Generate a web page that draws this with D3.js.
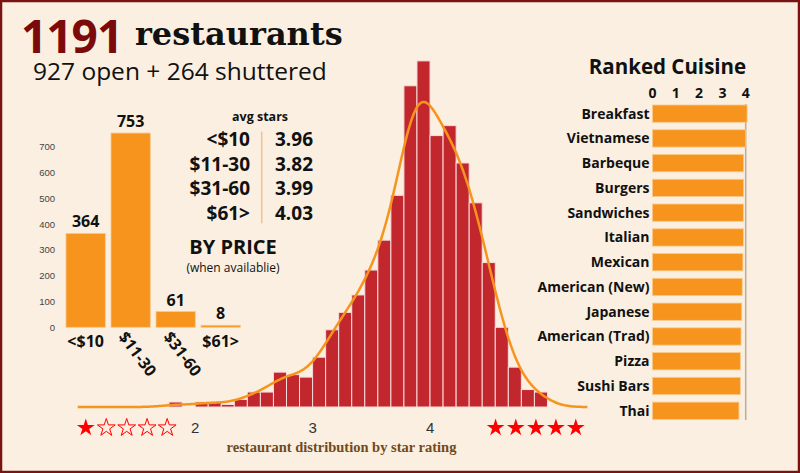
<!DOCTYPE html>
<html><head><meta charset="utf-8">
<script src="https://cdn.jsdelivr.net/npm/d3@7"></script>
<style>html,body{margin:0;padding:0;background:#faefe0;} svg{display:block}</style>
</head><body><svg id="c" width="800" height="473"></svg>
<script>
// ---------- DATA ----------
const priceCats = ["<$10", "$11-30", "$31-60", "$61>"];
const priceCounts = [364, 753, 61, 8];
const priceAvgStars = ["3.96", "3.82", "3.99", "4.03"];
const priceTicks = [0, 100, 200, 300, 400, 500, 600, 700];

const cuisines = ["Breakfast", "Vietnamese", "Barbeque", "Burgers", "Sandwiches", "Italian",
  "Mexican", "American (New)", "Japanese", "American (Trad)", "Pizza", "Sushi Bars", "Thai"];
const cuisineStars = [4.06, 4.00, 3.91, 3.91, 3.90, 3.90, 3.88, 3.85, 3.83, 3.80, 3.77, 3.77, 3.71];
const cuisineTicks = [0, 1, 2, 3, 4];

const starTicks = [2, 3, 4];
const binStart = 1.7778;    // lower edge of first histogram bin (stars)
const binWidth = 0.1111;    // bin width (stars)
const binCounts = [2, 0, 2, 2, 1, 3, 6, 6, 14, 13, 12, 20, 31, 38, 45, 55, 67, 85, 129, 139,
  109, 113, 98, 82, 58, 32, 16, 7, 6];
const kdeRange = [1, 5.34];

// ---------- SETUP ----------
const W = 800, H = 473;
const SANS = "'Open Sans','Noto Sans',sans-serif";
const ORANGE = "#f7941d", CRIMSON = "#c1272d";
const svg = d3.select("#c");
svg.append("rect").attr("width", W).attr("height", H).attr("fill", "#faefe0");

// ---------- TITLE ----------
svg.append("text").attr("x", 21).attr("y", 53)
  .attr("font-family", SANS).attr("font-weight", 700).attr("font-size", 46)
  .attr("letter-spacing", -1).attr("fill", "#7d0a0a").text("1191");
svg.append("text").attr("x", 135).attr("y", 45)
  .attr("font-family", "'DejaVu Serif',serif").attr("font-weight", 700).attr("font-size", 32)
  .attr("fill", "#111").text("restaurants");
svg.append("text").attr("x", 33).attr("y", 80)
  .attr("font-family", SANS).attr("font-size", 24.5).attr("fill", "#111")
  .text("927 open + 264 shuttered");

// ---------- PRICE BAR CHART ----------
const xP = d3.scaleBand().domain(priceCats).range([66, 240.3]).paddingInner(0.127).paddingOuter(0);
const yP = d3.scaleLinear().domain([0, 700]).range([327.3, 146.7]);
const gP = svg.append("g");
gP.selectAll("text.yt").data(priceTicks).join("text").attr("class", "yt")
  .attr("x", 55).attr("y", d => yP(d) + 3.4).attr("text-anchor", "end")
  .attr("font-family", "'Liberation Sans',Arial,sans-serif").attr("font-size", 9.5).attr("fill", "#444")
  .text(d => d);
gP.selectAll("rect").data(priceCats).join("rect")
  .attr("x", d => xP(d)).attr("width", xP.bandwidth())
  .attr("y", (d, i) => yP(priceCounts[i])).attr("height", (d, i) => yP(0) - yP(priceCounts[i]))
  .attr("fill", ORANGE).attr("stroke", "#fbc98a").attr("stroke-width", 0.8);
gP.selectAll("text.v").data(priceCats).join("text").attr("class", "v")
  .attr("x", d => xP(d) + xP.bandwidth() / 2).attr("y", (d, i) => yP(priceCounts[i]) - 6)
  .attr("text-anchor", "middle").attr("font-family", SANS).attr("font-weight", 700)
  .attr("font-size", 16).attr("fill", "#111").text((d, i) => priceCounts[i]);
gP.selectAll("text.xl").data(priceCats).join("text").attr("class", "xl")
  .attr("font-family", SANS).attr("font-weight", 700).attr("font-size", 16).attr("fill", "#111")
  .attr("text-anchor", (d, i) => (i === 1 || i === 2) ? "start" : "middle")
  .attr("transform", (d, i) => {
    const cx = xP(d) + xP.bandwidth() / 2;
    if (i === 1 || i === 2) return `translate(${cx - 13},${337}) rotate(53)`;
    return `translate(${cx},${347})`;
  })
  .text(d => d);

// avg stars table
const gT = svg.append("g");
gT.append("text").attr("x", 260).attr("y", 121).attr("text-anchor", "middle")
  .attr("font-family", SANS).attr("font-weight", 700).attr("font-size", 12.5).attr("fill", "#111")
  .text("avg stars");
const rowY = d3.scaleBand().domain(priceCats).range([133.7, 232.4]);
gT.append("line").attr("x1", 261.7).attr("x2", 261.7).attr("y1", 131.7).attr("y2", 223.3)
  .attr("stroke", "#f3c28a").attr("stroke-width", 1.5);
gT.selectAll("text.pl").data(priceCats).join("text").attr("class", "pl")
  .attr("x", 250).attr("y", d => rowY(d) + 12.3).attr("text-anchor", "end")
  .attr("font-family", SANS).attr("font-weight", 700).attr("font-size", 19).attr("fill", "#111")
  .text(d => d);
gT.selectAll("text.pv").data(priceCats).join("text").attr("class", "pv")
  .attr("x", 275).attr("y", d => rowY(d) + 12.3)
  .attr("font-family", SANS).attr("font-weight", 700).attr("font-size", 19).attr("fill", "#111")
  .text((d, i) => priceAvgStars[i]);
gT.append("text").attr("x", 233).attr("y", 253.5).attr("text-anchor", "middle")
  .attr("font-family", SANS).attr("font-weight", 700).attr("font-size", 20).attr("fill", "#111")
  .text("BY PRICE");
gT.append("text").attr("x", 233).attr("y", 271.5).attr("text-anchor", "middle")
  .attr("font-family", SANS).attr("font-size", 12).attr("fill", "#111")
  .text("(when availablie)");

// ---------- HISTOGRAM ----------
const xS = d3.scaleLinear().domain([1, 5]).range([77.7, 547.5]);
const yH = d3.scaleLinear().domain([0, 140]).range([407, 58.4]);
const gH = svg.append("g");
const bins = binCounts.map((c, i) => ({ x0: binStart + i * binWidth, x1: binStart + (i + 1) * binWidth, c }));
gH.selectAll("rect").data(bins.filter(b => b.c > 0)).join("rect")
  .attr("x", b => xS(b.x0)).attr("width", b => xS(b.x1) - xS(b.x0))
  .attr("y", b => yH(b.c)).attr("height", b => yH(0) - yH(b.c))
  .attr("fill", CRIMSON).attr("stroke", "#f7dcdc").attr("stroke-width", 1);

// Gaussian KDE of the binned data, scaled to counts per bin
const n = d3.sum(binCounts);
const centers = bins.map(b => (b.x0 + b.x1) / 2);
const mean = d3.sum(centers.map((c, i) => c * binCounts[i])) / n;
const sd = Math.sqrt(d3.sum(centers.map((c, i) => binCounts[i] * (c - mean) ** 2)) / n);
const bw = 1.06 * sd * Math.pow(n, -0.2);
const kde = x => binWidth * d3.sum(centers.map((c, i) =>
  binCounts[i] * Math.exp(-0.5 * ((x - c) / bw) ** 2) / (bw * Math.sqrt(2 * Math.PI))));
const kx = d3.range(kdeRange[0], kdeRange[1] + 0.005, 0.01);
gH.append("path").datum(kx)
  .attr("d", d3.line().x(d => xS(d)).y(d => yH(kde(d))).curve(d3.curveMonotoneX))
  .attr("fill", "none").attr("stroke", ORANGE).attr("stroke-width", 2.5);

gH.selectAll("text.st").data(starTicks).join("text").attr("class", "st")
  .attr("x", d => xS(d)).attr("y", 432.5).attr("text-anchor", "middle")
  .attr("font-family", "'Liberation Sans',Arial,sans-serif").attr("font-size", 15).attr("fill", "#333")
  .text(d => d);

// star decorations
const starPath = d3.symbol().type(d3.symbolStar).size(98)();
const leftStars = [85.8, 106.3, 126.7, 147.1, 167.2];
const rightStars = [495.6, 515.8, 535.9, 555.9, 575.8];
svg.selectAll("path.ls").data(leftStars).join("path").attr("class", "ls")
  .attr("d", starPath).attr("transform", d => `translate(${d},427.8)`)
  .attr("fill", (d, i) => i === 0 ? "#ff0000" : "none")
  .attr("stroke", "#ff0000").attr("stroke-width", (d, i) => i === 0 ? 0 : 1);
svg.selectAll("path.rs").data(rightStars).join("path").attr("class", "rs")
  .attr("d", starPath).attr("transform", d => `translate(${d},427.8)`)
  .attr("fill", "#ff0000");

svg.append("text").attr("x", 341.5).attr("y", 451.5).attr("text-anchor", "middle")
  .attr("font-family", "'Liberation Serif',serif").attr("font-weight", 700).attr("font-size", 14.5)
  .attr("fill", "#72491a").text("restaurant distribution by star rating");

// ---------- RANKED CUISINE ----------
const xC = d3.scaleLinear().domain([0, 4]).range([652.5, 745.7]);
const yC = d3.scaleBand().domain(cuisines).range([105, 419.4]).paddingInner(0.302).paddingOuter(0);
const gC = svg.append("g");
gC.append("text").attr("x", 667.5).attr("y", 74).attr("text-anchor", "middle")
  .attr("font-family", SANS).attr("font-weight", 700).attr("font-size", 20.5).attr("fill", "#111")
  .text("Ranked Cuisine");
gC.selectAll("text.ct").data(cuisineTicks).join("text").attr("class", "ct")
  .attr("x", d => xC(d)).attr("y", 97.7).attr("text-anchor", "middle")
  .attr("font-family", SANS).attr("font-weight", 700).attr("font-size", 14).attr("fill", "#111")
  .text(d => d);
gC.append("line").attr("x1", xC(4)).attr("x2", xC(4)).attr("y1", 104).attr("y2", 420)
  .attr("stroke", "#b8aca0").attr("stroke-width", 1.5);
gC.selectAll("rect").data(cuisines).join("rect")
  .attr("x", xC(0)).attr("y", d => yC(d)).attr("height", yC.bandwidth())
  .attr("width", (d, i) => xC(cuisineStars[i]) - xC(0))
  .attr("fill", ORANGE).attr("stroke", "#fbc98a").attr("stroke-width", 0.8);
gC.selectAll("text.cl").data(cuisines).join("text").attr("class", "cl")
  .attr("x", 649.5).attr("y", d => yC(d) + yC.bandwidth() / 2 + 5).attr("text-anchor", "end")
  .attr("font-family", SANS).attr("font-weight", 700).attr("font-size", 14).attr("fill", "#111")
  .text(d => d);

// border
svg.append("rect").attr("x", 1).attr("y", 1).attr("width", W - 2).attr("height", H - 2)
  .attr("fill", "none").attr("stroke", "#7b1212").attr("stroke-width", 2.5);
</script></body></html>
